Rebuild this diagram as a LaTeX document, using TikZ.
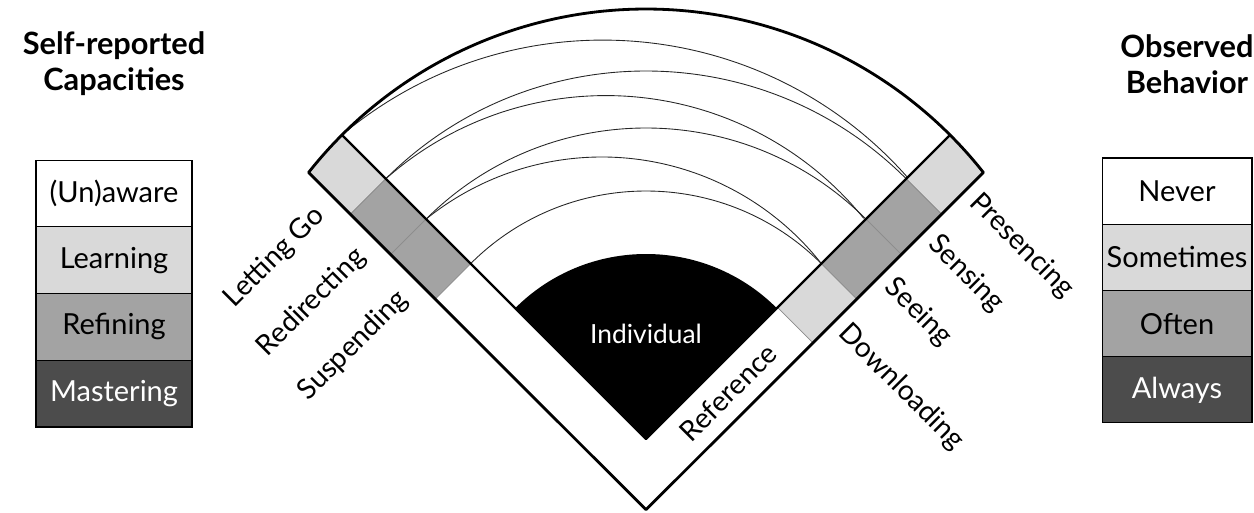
\documentclass[tikz,border=0pt]{standalone}
\usepackage{fontspec}
\setmainfont{Lato}
\usetikzlibrary{positioning}
\definecolor{lightcell}{RGB}{217,217,217}
\definecolor{midcell}{RGB}{163,163,163}
\definecolor{darkcell}{RGB}{76,76,76}

\begin{document}
\begin{tikzpicture}[x=0.02cm, y=0.02cm,
    every node/.style={font=\fontsize{15}{18}\selectfont},
    title/.style={font=\fontsize{17.5}{20.5}\selectfont\bfseries, align=center},
    capbox/.style={draw, line width=0.6pt, outer sep=0pt, inner sep=0pt, minimum width=3.12cm, minimum height=1.335cm, font=\fontsize{16.5}{19}\selectfont},
    behbox/.style={draw, line width=0.6pt, outer sep=0pt, inner sep=0pt, minimum width=3.0cm, minimum height=1.325cm, font=\fontsize{16.5}{19}\selectfont},
    stage/.style={inner sep=1pt, font=\fontsize{16}{19}\selectfont},
    frame/.style={line width=1.3pt, line join=round},
    cell/.style={draw=black!45, line width=0.4pt},
    link/.style={line width=0.5pt, black!85}
]
\useasboundingbox (0,0) rectangle (1254,512);

% left legend
\node[title] (captitle) at (114,448) {Self-reported\\Capacities};
\node[capbox] (unaware) at (114,318.6) {(Un)aware};
\node[capbox, fill=lightcell, below=0pt of unaware] (learning) {Learning};
\node[capbox, fill=midcell, below=0pt of learning] (refining) {Refining};
\node[capbox, fill=darkcell, text=white, below=0pt of refining] (mastering) {Mastering};

% right legend
\node[title] (behtitle) at (1187,448) {Observed\\Behavior};
\node[behbox] (never) at (1177,320.9) {Never};
\node[behbox, fill=lightcell, below=0pt of never] (sometimes) {Sometimes};
\node[behbox, fill=midcell, below=0pt of sometimes] (often) {Often};
\node[behbox, fill=darkcell, text=white, below=0pt of often] (always) {Always};

\begin{scope}[shift={(646,73)}]
    \coordinate (O) at (0,0);
    \coordinate (apex) at (0,-70.7);
    \coordinate (cornerL) at (141.7:430);
    \coordinate (cornerR) at (38.3:430);

    % band cells
    \begin{scope}
        \clip (cornerL) arc[start angle=141.7, end angle=38.3, radius=430] -- (apex) -- cycle;
        \foreach \a/\b/\c in {368/440/lightcell, 311/368/midcell, 248/311/midcell}
            \filldraw[cell, fill=\c] (135:\a) -- (135:\b) -- ++(225:50) -- ++(315:{\b-\a}) -- cycle;
        \foreach \a/\b/\c in {368/440/lightcell, 311/368/midcell, 248/311/midcell, 186/248/lightcell}
            \filldraw[cell, fill=\c] (45:\a) -- (45:\b) -- ++(-45:50) -- ++(225:{\b-\a}) -- cycle;
    \end{scope}

    \fill (O) -- (135:185) arc[start angle=135, end angle=45, radius=185] -- cycle;
    \node[text=white] (individual) at (0,105) {Individual};

    % links between the stages
    \coordinate (l0) at (135:430);
    \coordinate (l1) at (135:368);
    \coordinate (l2) at (135:311);
    \coordinate (l3) at (135:248);
    \draw[link] (l0) arc[start angle=129.95, end angle=41.45, radius=406.5];
    \draw[link] (l1) arc[start angle=135, end angle=45, radius=368];
    \draw[link] (l1) arc[start angle=131.44, end angle=39.09, radius=332.4];
    \draw[link] (l2) arc[start angle=135, end angle=45, radius=311];
    \draw[link] (l2) arc[start angle=128.94, end angle=38.21, radius=279.5];
    \draw[link] (l3) arc[start angle=135, end angle=45, radius=248];

    \draw[frame] (l0) -- (O) -- (45:430);
    \draw[frame, line width=1.6pt] (cornerL) arc[start angle=141.7, end angle=38.3, radius=430] -- (apex) -- cycle;

    % stage labels
    \path (135:391) ++(225:68) node[stage, rotate=45, anchor=east] (letgo) {Letting Go};
    \path (135:333) ++(225:68) node[stage, rotate=45, anchor=east] (redirect) {Redirecting};
    \path (135:273) ++(225:68) node[stage, rotate=45, anchor=east] (suspend) {Suspending};
    \path (45:402) ++(-45:60) node[stage, rotate=-45, anchor=west] (presence) {Presencing};
    \path (45:343) ++(-45:60) node[stage, rotate=-45, anchor=west] (sense) {Sensing};
    \path (45:282) ++(-45:60) node[stage, rotate=-45, anchor=west] (see) {Seeing};
    \path (45:217) ++(-45:60) node[stage, rotate=-45, anchor=west] (download) {Downloading};
    \path (45:91) ++(-45:25) node[stage, rotate=45] (reference) {Reference};
\end{scope}
\end{tikzpicture}
\end{document}
